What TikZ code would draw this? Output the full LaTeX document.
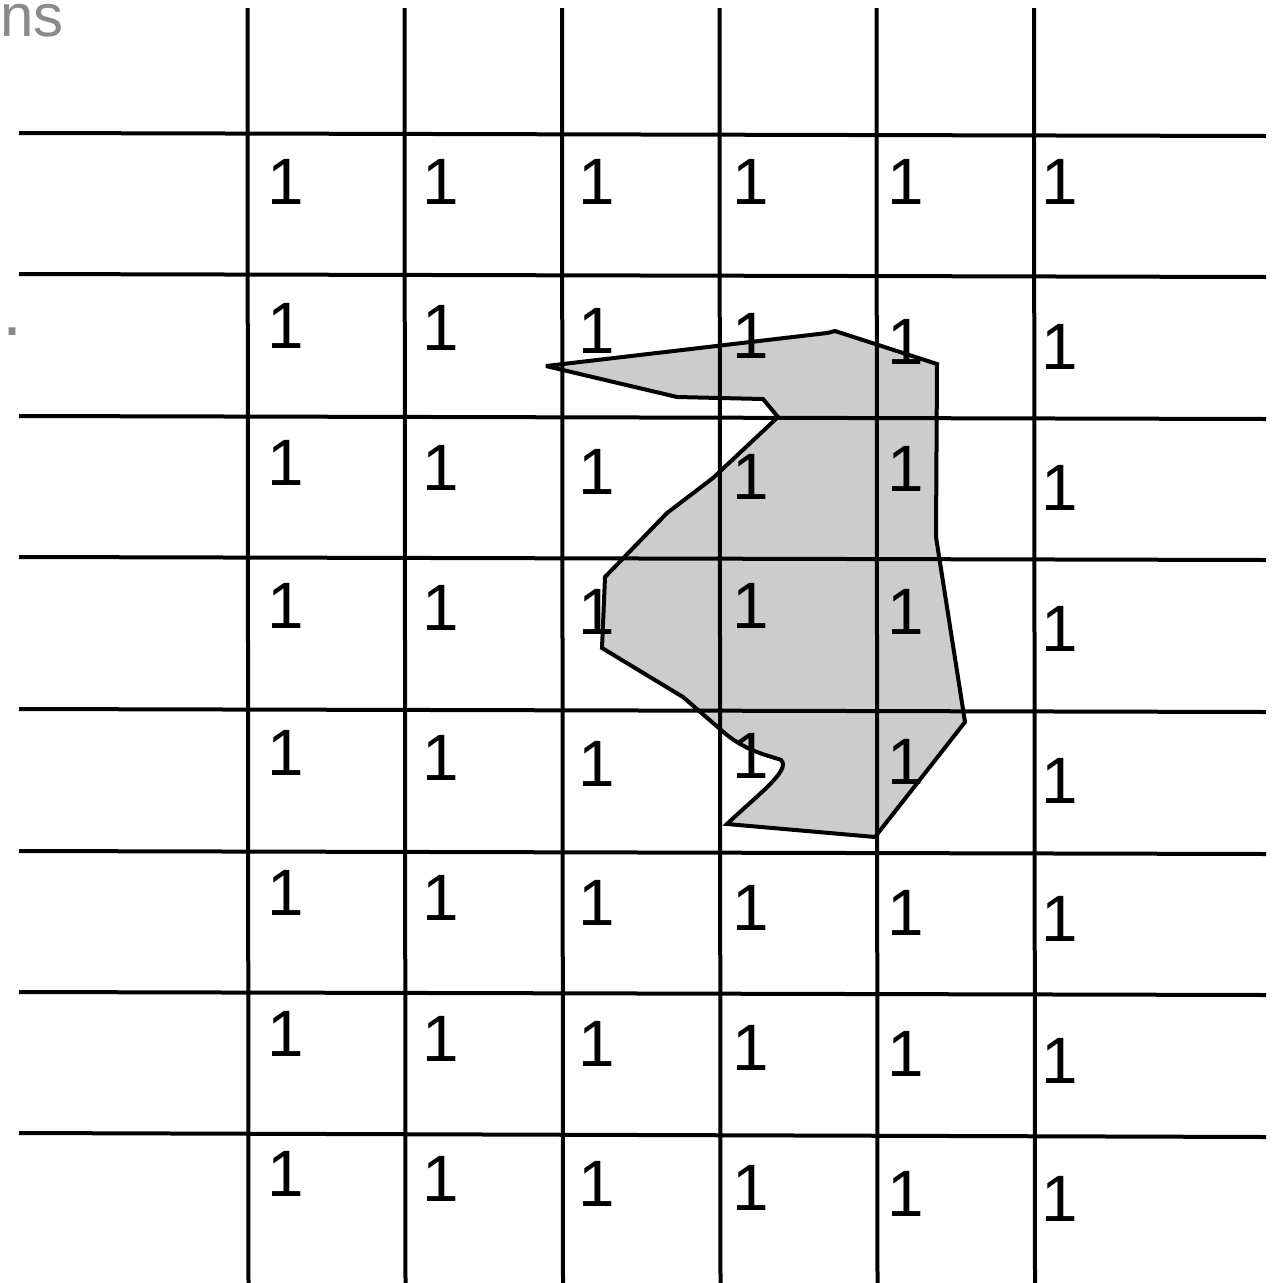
\documentclass[tikz,border=0pt]{standalone}
\usepackage{fontspec}
\setmainfont{Liberation Sans}
\begin{document}
\begin{tikzpicture}[x=1pt,y=-1pt,
  gridline/.style={line width=4pt,black},
  blob/.style={fill={rgb,255:red,204;green,204;blue,204},draw=black,line width=4pt,line join=miter,miter limit=3},
  digit/.style={anchor=base,inner sep=0pt,font=\fontsize{65.6}{70}\selectfont},
  fadedtext/.style={inner sep=0pt,text={rgb,255:red,138;green,138;blue,138},font=\fontsize{60}{64}\selectfont}]
\useasboundingbox (0,0) rectangle (1283,1283);
% shaded region
\draw[blob] (546,366) -- (827,333) -- (835,331) -- (937,364) -- (936,537) -- (965,722)
  -- (875,837) -- (727,824)
  .. controls (755,797) and (792,770) .. (781,760)
  .. controls (768,755) and (745,752) .. (720,729)
  -- (683,697) -- (602,648) -- (605,577) -- (667,513) -- (713,478) -- (778,417)
  -- (763,399) -- (677,397) -- cycle;
% horizontal lines
\foreach \yl/\yr in {133/136,274/277,416/419,557/560,709/712,851/854,992/995,1133/1137}
  \draw[gridline] (19,\yl) -- (1266,\yr);
% vertical lines
\foreach \xx in {247.5,404.5,562,719.5,876.5,1034}
  \draw[gridline] (\xx,8) -- (\xx+1,1283);
% digits
\foreach \r/\ya/\yb/\yc/\yd/\ye/\yf in {1/181/181/181/181/181/181,
  2/325/327/330/335/341/346,
  3/462/467/471/476/468/487,
  4/605/607/611/605/611/628,
  5/752/757/763/755/761/780,
  6/892/897/902/907/912/918,
  7/1033/1038/1043/1047/1053/1060,
  8/1173/1178/1183/1187/1193/1198}{
  \node[digit] (d\r a) at (283+2.4,\ya+23.5) {1};
  \node[digit] (d\r b) at (438+2.4,\yb+23.5) {1};
  \node[digit] (d\r c) at (594+2.4,\yc+23.5) {1};
  \node[digit] (d\r d) at (748+2.4,\yd+23.5) {1};
  \node[digit] (d\r e) at (903+2.4,\ye+23.5) {1};
  \node[digit] (d\r f) at (1057+2.4,\yf+23.5) {1};
}
% cropped text fragments
\node[fadedtext,anchor=base east] (frag1) at (64,36) {ns};
\node[fadedtext,anchor=base west,font=\fontsize{72}{76}\selectfont] (frag2) at (2.5,335) {.};
\end{tikzpicture}
\end{document}
